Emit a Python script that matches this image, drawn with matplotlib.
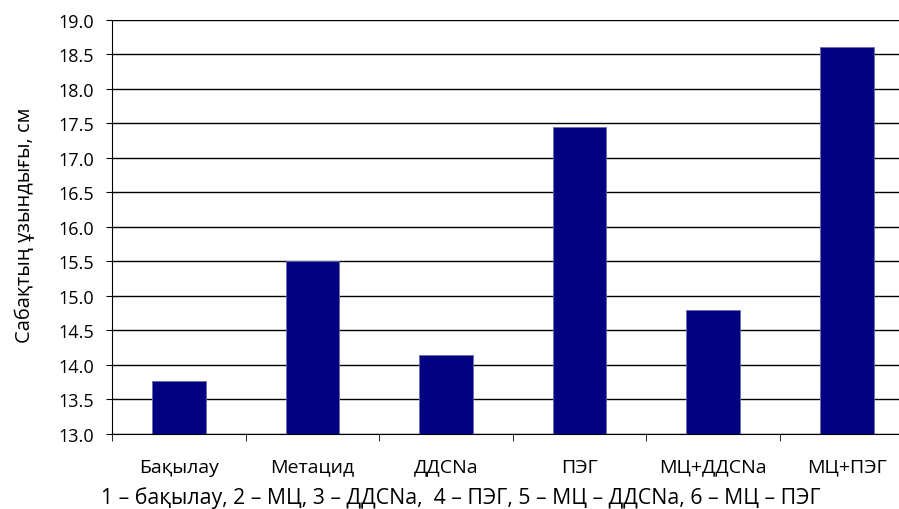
import numpy as np
import matplotlib.pyplot as plt

plt.rcParams['font.family'] = ['Open Sans', 'DejaVu Sans']

categories = ["Бақылау", "Метацид", "ДДСNa", "ПЭГ", "МЦ+ДДСNa", "МЦ+ПЭГ"]
values = [13.77, 15.5, 14.15, 17.45, 14.8, 18.6]
yticks = np.arange(13.0, 19.01, 0.5)

fig = plt.figure(figsize=(8.99, 5.10), dpi=100)
# axes runs slightly past the right edge of the figure
ax = fig.add_axes([112 / 899, 75 / 510, 801.6 / 899, 414.5 / 510])

x = np.arange(len(categories))
ax.bar(x, values, width=0.4, color="#000080", edgecolor="#6a6ab0", linewidth=0.6,
       zorder=3)

ax.set_ylim(13.0, 19.0)
ax.set_xlim(-0.5, len(categories) - 0.5)
ax.set_yticks(yticks)
ax.set_yticklabels([f"{v:.1f}" for v in yticks], fontsize=13)
ax.set_xticks(x)
ax.set_xticklabels(categories, fontsize=14)
ax.tick_params(axis="x", length=0, pad=17)
ax.set_xticks(np.arange(-0.5, len(categories), 1.0), minor=True)
ax.tick_params(axis="x", which="minor", length=5, color="black", direction="out")
ax.tick_params(axis="y", length=4, color="black", direction="out", pad=9)

ax.grid(axis="y", color="black", linewidth=1.0, zorder=0)
for side in ["top", "right"]:
    ax.spines[side].set_visible(False)
ax.spines["left"].set_color("black")
ax.spines["bottom"].set_color("black")

ax.set_ylabel("Сабақтың ұзындығы, см", fontsize=14.5, va="center")
ax.yaxis.set_label_coords(-0.1085, 0.507)
fig.text(461 / 899, 1 - 498 / 510,
         "1 – бақылау, 2 – МЦ, 3 – ДДСNa,  4 – ПЭГ, 5 – МЦ – ДДСNa, 6 – МЦ – ПЭГ",
         ha="center", va="center", fontsize=15.3)

fig.savefig("out.png", dpi=100)
